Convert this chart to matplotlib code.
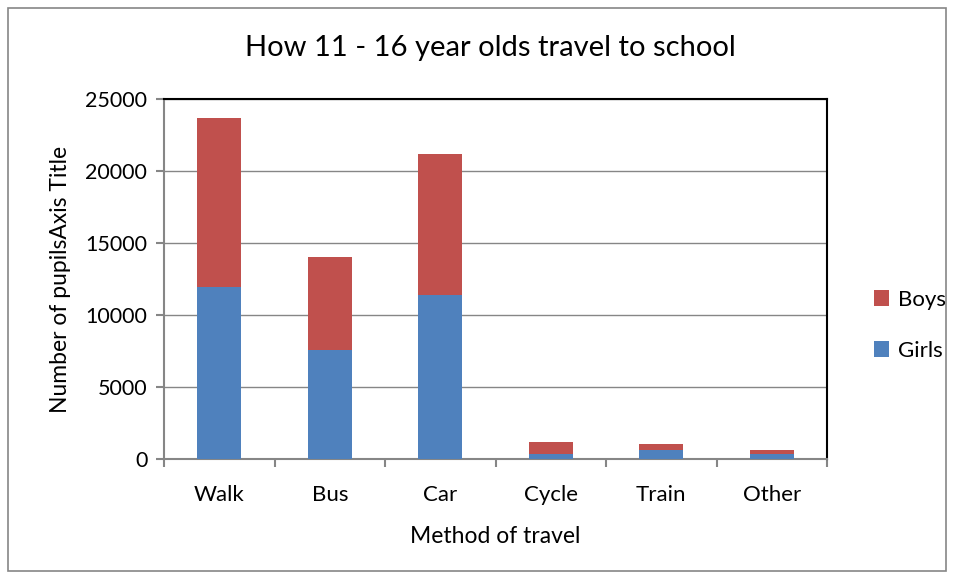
import numpy as np
import matplotlib.pyplot as plt
from matplotlib.patches import Rectangle

# data
methods = ['Walk', 'Bus', 'Car', 'Cycle', 'Train', 'Other']
girls = [11940, 7570, 11390, 330, 650, 350]
boys = [11740, 6460, 9790, 870, 400, 250]

plt.rcParams['font.family'] = ['Lato', 'DejaVu Sans']

fig = plt.figure(figsize=(9.55, 5.79), dpi=100)
ax = fig.add_axes([164 / 955, 1 - 459 / 579, 663 / 955, 360 / 579])

x = np.arange(len(methods))
ax.bar(x, girls, width=0.4, color='#4f81bd', label='Girls', zorder=3)
ax.bar(x, boys, width=0.4, bottom=girls, color='#c0504d', label='Boys', zorder=3)

ax.set_xlim(-0.5, len(methods) - 0.5)
ax.set_ylim(0, 25000)
ax.set_yticks(np.arange(0, 25001, 5000))
ax.yaxis.grid(True, color='#868686', linewidth=1, zorder=0)

ax.set_xticks(x)
ax.set_xticklabels(methods, fontsize=16)
ax.set_xticks(np.arange(-0.5, len(methods), 1), minor=True)
ax.tick_params(axis='x', which='major', length=0, pad=19)
ax.tick_params(axis='x', which='minor', length=6, color='#868686', width=1.5)
ax.tick_params(axis='y', length=6, color='#868686', width=1.5, labelsize=15.5, pad=6)

ax.spines['left'].set_color('#868686')
ax.spines['bottom'].set_color('#868686')
ax.spines['left'].set_linewidth(1.5)
ax.spines['bottom'].set_linewidth(1.5)
ax.spines['top'].set_color('black')
ax.spines['right'].set_color('black')
ax.spines['top'].set_linewidth(1.5)
ax.spines['right'].set_linewidth(1.5)

ax.set_xlabel('Method of travel', fontsize=16.5, labelpad=15)
ax.set_ylabel('Number of pupilsAxis Title', fontsize=16.5, labelpad=10)
fig.text(490 / 955, 1 - 48 / 579, 'How 11 - 16 year olds travel to school',
         fontsize=21, ha='center', va='center')

handles, labels = ax.get_legend_handles_labels()
ax.legend(handles[::-1], labels[::-1], loc='center left', bbox_to_anchor=(1.04, 0.372),
          frameon=False, fontsize=16, handlelength=0.7, handleheight=0.7,
          labelspacing=1.4, handletextpad=0.4)

fig.patches.append(Rectangle((8 / 955, 8 / 579), 938 / 955, 563 / 579, transform=fig.transFigure,
                             fill=False, edgecolor='#868686', linewidth=1.2))

fig.savefig('out.png', dpi=100)
